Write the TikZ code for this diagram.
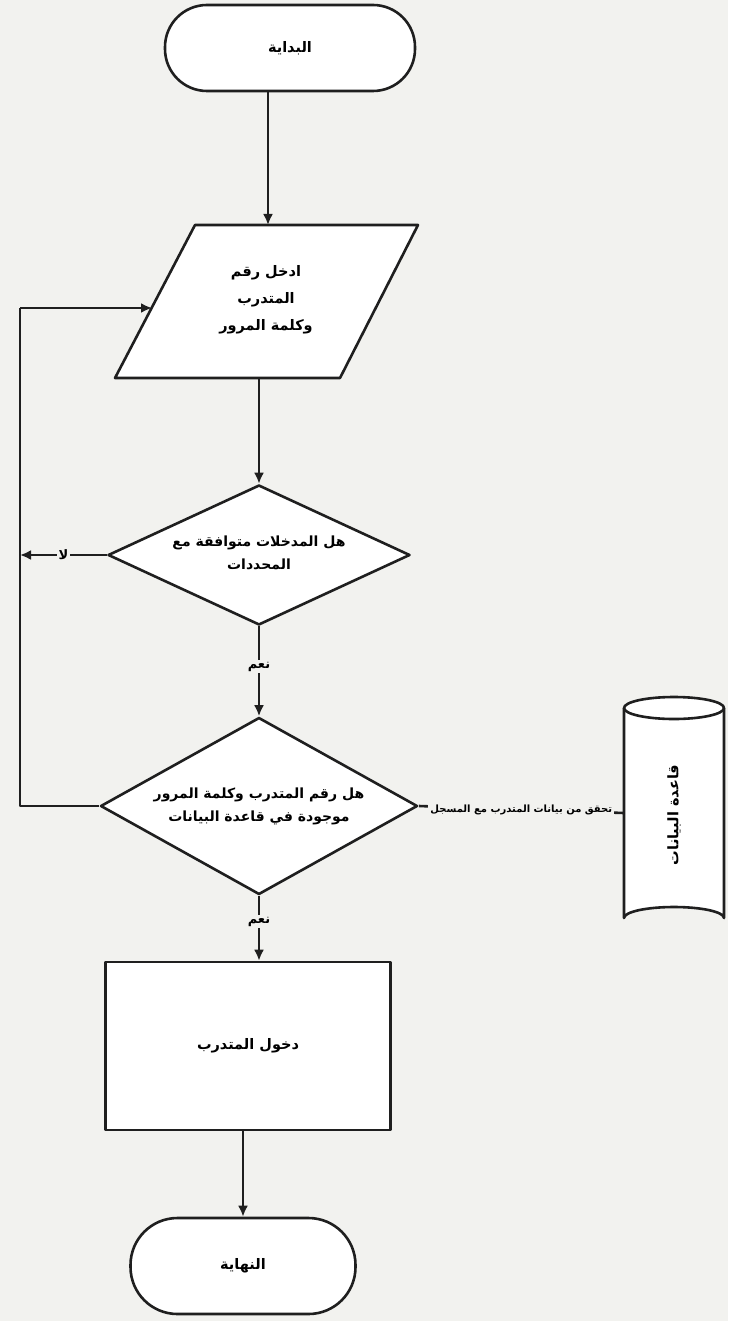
\documentclass[tikz,border=0pt]{standalone}
\usepackage{fontspec}
\usetikzlibrary{arrows.meta,shapes.geometric}
\TeXXeTstate=1
\newfontfamily\arabicfont[Script=Arabic]{DejaVu Sans}
\newcommand{\artxt}[1]{{\arabicfont\bfseries\beginR #1\endR}}
\begin{document}
\begin{tikzpicture}[x=1pt,y=-1pt,
  ln/.style={line width=2.6pt,draw=black!88,line join=round},
  arr/.style={ln,-{Latex[length=11pt,width=10pt]}},
  term/.style={ln,rectangle,rounded corners=#1,fill=white},
  txt/.style={font=\fontsize{14.5}{27}\selectfont,align=center,inner sep=1pt},
  lbl/.style={font=\fontsize{13}{15}\selectfont,fill=paper,inner sep=2pt},
  proc/.style={ln,rectangle,fill=white,inner sep=0pt}]
\definecolor{paper}{RGB}{242,242,239}
\fill[paper] (0,0) rectangle (728,1321);
\useasboundingbox (0,0) rectangle (728,1321);

% start terminal
\node[term=42pt,minimum width=250pt,minimum height=86pt] (start) at (290,48) {};
\node[txt] (starttxt) at (start.center) {\artxt{البداية}};

% input parallelogram
\coordinate (p1) at (195,225);
\coordinate (p2) at (418,225);
\coordinate (p3) at (340,378);
\coordinate (p4) at (115,378);
\draw[ln,fill=white] (p1) -- (p2) -- (p3) -- (p4) -- cycle;
\coordinate (intop) at (268,225);
\coordinate (inbot) at (262,378);
\coordinate (inleft) at (152,308);
\node[txt] (inp) at (266,300) {\artxt{ادخل رقم}\\\artxt{المتدرب}\\\artxt{وكلمة المرور}};

% decision 1
\node[ln,diamond,minimum width=302pt,minimum height=140pt,inner sep=0pt,fill=white] (d1) at (259,555) {};
\node[txt,font=\fontsize{14}{23}\selectfont] (d1txt) at (259,553) {\artxt{هل المدخلات متوافقة مع}\\\artxt{المحددات}};

% decision 2
\node[ln,diamond,minimum width=317pt,minimum height=177pt,inner sep=0pt,fill=white] (d2) at (259,806) {};
\node[txt,font=\fontsize{14}{23}\selectfont] (d2txt) at (259,806) {\artxt{هل رقم المتدرب وكلمة المرور}\\\artxt{موجودة في قاعدة البيانات}};

% process
\node[proc,minimum width=285pt,minimum height=168pt] (login) at (248,1046) {};
\node[txt] (logintxt) at (login.center) {\artxt{دخول المتدرب}};

% end terminal
\node[term=47pt,minimum width=225pt,minimum height=96pt] (stop) at (243,1266) {};
\node[txt] (stoptxt) at (stop.center) {\artxt{النهاية}};

% database cylinder
\node[minimum width=100pt,minimum height=222pt,inner sep=0pt] (db) at (674,813) {};
\draw[ln,fill=white] (624,708) -- (624,918) arc[start angle=180,end angle=360,x radius=50,y radius=11] -- (724,708);
\draw[ln,fill=white] (674,708) ellipse[x radius=50,y radius=11];
\node[txt,rotate=90] (dbtxt) at (674,815) {\artxt{قاعدة البيانات}};

% loop
\coordinate (loopb) at (20,806);
\coordinate (loopt) at (20,308);
\coordinate (noend) at (20,555);

% connectors
\draw[arr] (start.south -| intop) -- (intop);
\draw[arr] (d1.north |- inbot) -- (d1.north);
\draw[arr] (d1.west) -- node[lbl] (nolbl) {\artxt{لا}} (noend);
\draw[arr] (d1.south) -- node[lbl,pos=0.45] (yes1) {\artxt{نعم}} (d2.north);
\draw[ln] (d2.west) -- (loopb) -- (loopt);
\draw[arr] (loopt) -- (inleft);
\draw[ln] (d2.east) -- node[lbl,font=\fontsize{10}{12}\selectfont] (chk) {\artxt{تحقق من بيانات المتدرب مع المسجل}} (db.west);
\draw[arr] (d2.south) -- node[lbl,pos=0.4] (yes2) {\artxt{نعم}} (d2.south |- login.north);
\draw[arr] (stop.north |- login.south) -- (stop.north);
\end{tikzpicture}
\end{document}
